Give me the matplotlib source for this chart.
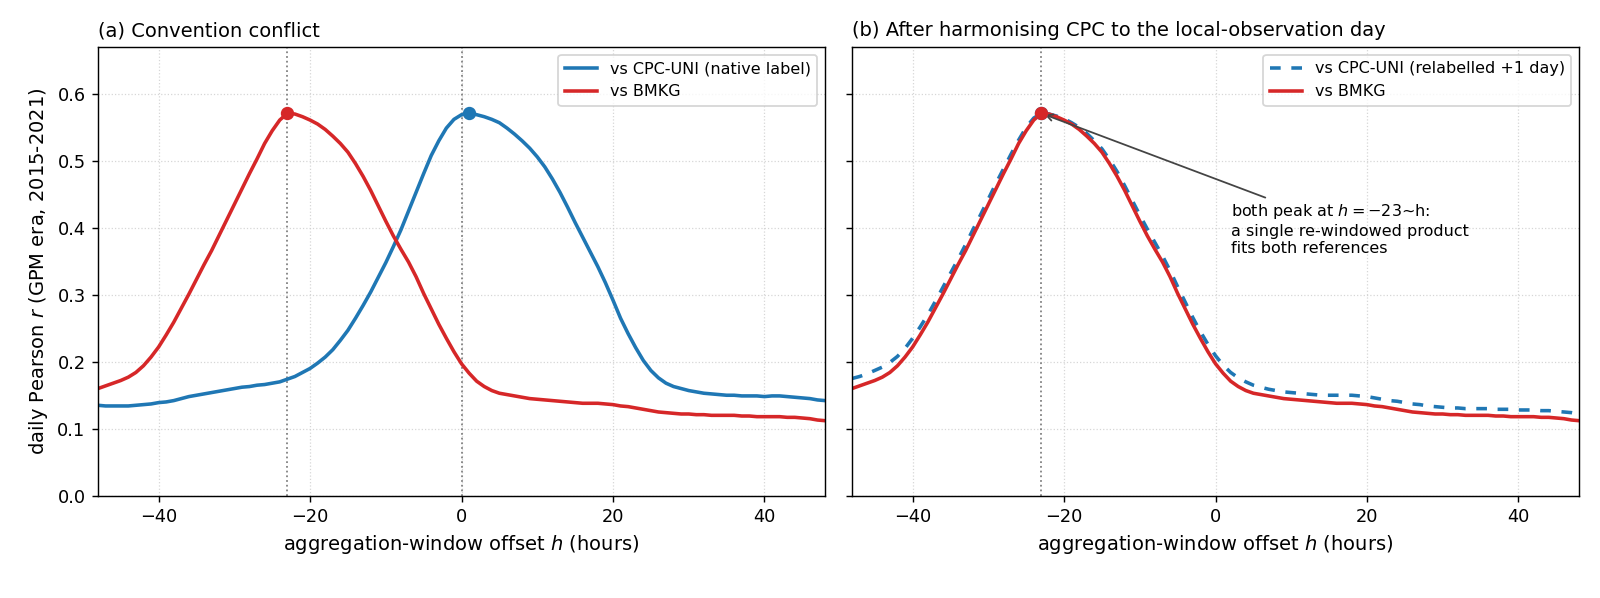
import numpy as np
import matplotlib
matplotlib.use('Agg')
import matplotlib.pyplot as plt

# offset h in hours, one value per hour
h = np.arange(-48, 49)

# vs BMKG (same in both panels)
r_bmkg = [0.160, 0.164, 0.168, 0.172, 0.177, 0.184, 0.194, 0.207, 0.222, 0.240,
          0.259, 0.280, 0.301, 0.323, 0.345, 0.366, 0.389, 0.412, 0.435, 0.458,
          0.481, 0.503, 0.526, 0.545, 0.561, 0.571, 0.570, 0.566, 0.561, 0.555,
          0.547, 0.537, 0.526, 0.513, 0.496, 0.477, 0.456, 0.433, 0.410, 0.388,
          0.368, 0.349, 0.327, 0.302, 0.279, 0.256, 0.235, 0.215, 0.197, 0.183,
          0.171, 0.163, 0.157, 0.153, 0.151, 0.149, 0.147, 0.145, 0.144, 0.143,
          0.142, 0.141, 0.140, 0.139, 0.138, 0.138, 0.138, 0.137, 0.136, 0.134,
          0.133, 0.131, 0.129, 0.127, 0.125, 0.124, 0.123, 0.122, 0.122, 0.121,
          0.121, 0.120, 0.120, 0.120, 0.120, 0.119, 0.119, 0.118, 0.118, 0.118,
          0.118, 0.117, 0.117, 0.116, 0.115, 0.113, 0.112]

# vs CPC-UNI, native label
r_cpc = [0.135, 0.134, 0.134, 0.134, 0.134, 0.135, 0.136, 0.137, 0.139, 0.140,
         0.142, 0.145, 0.148, 0.150, 0.152, 0.154, 0.156, 0.158, 0.160, 0.162,
         0.163, 0.165, 0.166, 0.168, 0.170, 0.174, 0.178, 0.184, 0.190, 0.198,
         0.207, 0.218, 0.232, 0.247, 0.265, 0.284, 0.304, 0.326, 0.348, 0.372,
         0.397, 0.425, 0.453, 0.481, 0.508, 0.530, 0.549, 0.562, 0.569, 0.571,
         0.569, 0.566, 0.562, 0.557, 0.549, 0.540, 0.530, 0.519, 0.506, 0.491,
         0.473, 0.453, 0.431, 0.408, 0.386, 0.364, 0.342, 0.318, 0.292, 0.265,
         0.242, 0.221, 0.202, 0.187, 0.176, 0.168, 0.163, 0.160, 0.157, 0.155,
         0.153, 0.152, 0.151, 0.150, 0.150, 0.149, 0.149, 0.149, 0.148, 0.149,
         0.149, 0.148, 0.147, 0.146, 0.145, 0.143, 0.142]

# vs CPC-UNI, relabelled +1 day
r_cpc_shift = [0.175, 0.178, 0.182, 0.187, 0.192, 0.199, 0.208, 0.220, 0.235, 0.252,
               0.270, 0.290, 0.311, 0.332, 0.353, 0.375, 0.398, 0.420, 0.443, 0.466,
               0.488, 0.510, 0.531, 0.550, 0.564, 0.571, 0.570, 0.567, 0.563, 0.557,
               0.550, 0.541, 0.530, 0.518, 0.502, 0.484, 0.463, 0.441, 0.419, 0.398,
               0.378, 0.358, 0.336, 0.312, 0.289, 0.266, 0.245, 0.226, 0.209, 0.195,
               0.184, 0.176, 0.170, 0.165, 0.162, 0.159, 0.157, 0.155, 0.154, 0.153,
               0.152, 0.151, 0.150, 0.150, 0.150, 0.150, 0.150, 0.149, 0.148, 0.146,
               0.144, 0.142, 0.141, 0.139, 0.137, 0.136, 0.134, 0.133, 0.132, 0.131,
               0.131, 0.130, 0.130, 0.130, 0.130, 0.129, 0.129, 0.129, 0.128, 0.128,
               0.128, 0.127, 0.127, 0.126, 0.125, 0.124, 0.122]

blue = '#1f77b4'
red = '#d62728'

plt.rcParams['font.family'] = 'DejaVu Sans'
plt.rcParams['font.size'] = 10

fig = plt.figure(figsize=(12.5, 4.671875), dpi=128)
ax1 = fig.add_axes([0.06125, 0.1711, 0.4544, 0.7502])
ax2 = fig.add_axes([0.5325, 0.1711, 0.4544, 0.7502], sharey=ax1)


def peak(ax, x, y, cor):
	i = int(np.argmax(y))
	ax.plot(x[i], y[i], 'o', color=cor, ms=6.5, zorder=5)


def estilo(ax):
	ax.set_xlim(-48, 48)
	ax.set_ylim(0, 0.67)
	ax.set_xticks([-40, -20, 0, 20, 40])
	ax.grid(True, linestyle=':', color='#cccccc', lw=0.7, alpha=0.8)
	ax.set_xlabel('aggregation-window offset $h$ (hours)', fontsize=11)
	ax.legend(loc='upper right', fontsize=9)


# (a)
ax1.axvline(-23, color='gray', ls=':', lw=1)
ax1.axvline(0, color='gray', ls=':', lw=1)
ax1.plot(h, r_cpc, color=blue, lw=2, label='vs CPC-UNI (native label)')
ax1.plot(h, r_bmkg, color=red, lw=2, label='vs BMKG')
peak(ax1, h, r_cpc, blue)
peak(ax1, h, r_bmkg, red)
ax1.set_title('(a) Convention conflict', loc='left', fontsize=11)
ax1.set_ylabel('daily Pearson $r$ (GPM era, 2015-2021)', fontsize=11)
estilo(ax1)

# (b)
ax2.axvline(-23, color='gray', ls=':', lw=1)
ax2.plot(h, r_cpc_shift, color=blue, lw=2, ls=(0, (3, 3)), label='vs CPC-UNI (relabelled +1 day)')
ax2.plot(h, r_bmkg, color=red, lw=2, label='vs BMKG')
peak(ax2, h, r_cpc_shift, blue)
peak(ax2, h, r_bmkg, red)
ax2.set_title('(b) After harmonising CPC to the local-observation day', loc='left', fontsize=11)
ax2.tick_params(labelleft=False)
ax2.annotate('both peak at $h=-23$~h:\na single re-windowed product\nfits both references',
             xy=(-23, 0.571), xytext=(2, 0.438), ha='left', va='top', fontsize=9,
             arrowprops=dict(arrowstyle='->', color='#444444', lw=1))
estilo(ax2)

plt.savefig('out.png', dpi=128)
